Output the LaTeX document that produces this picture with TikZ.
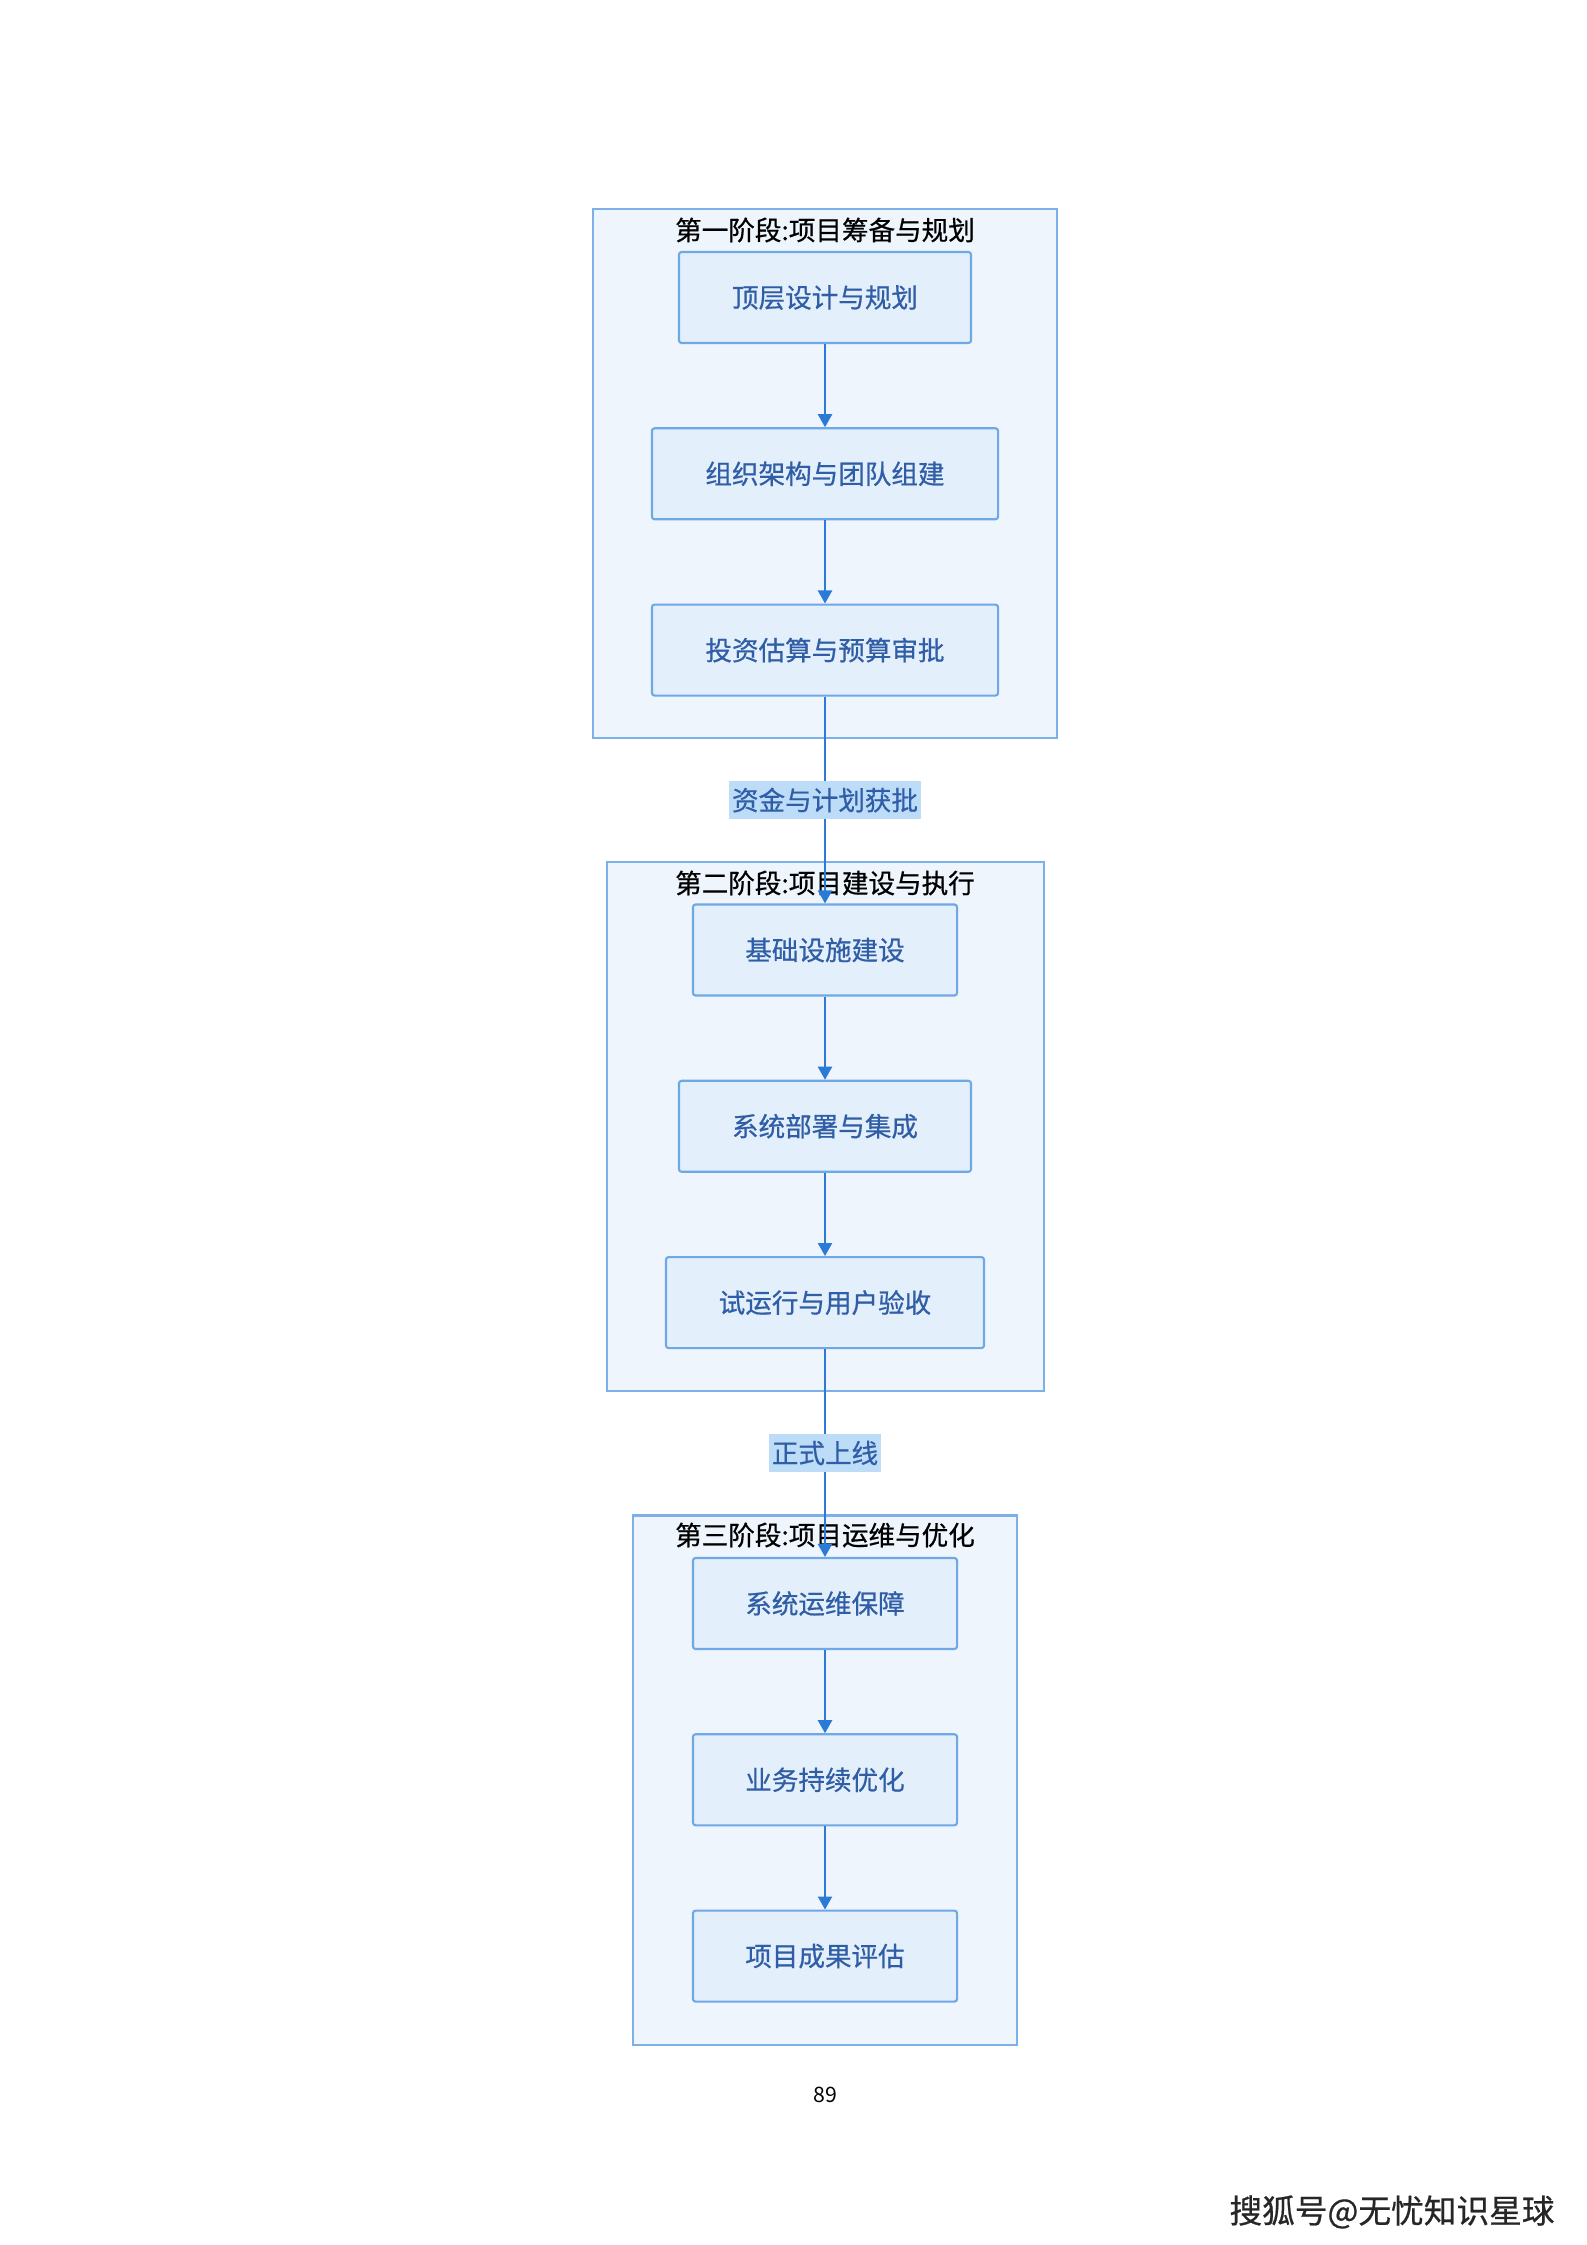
\documentclass[tikz,border=0pt]{standalone}
\usepackage{fontspec}
\setmainfont{Noto Sans CJK SC}
\newfontfamily\medfont[FakeBold=0.6]{Noto Sans CJK SC}
\usetikzlibrary{arrows.meta, positioning}

\definecolor{grpfill}{HTML}{EEF5FD}
\definecolor{grpline}{HTML}{7DB0E8}
\definecolor{boxfill}{HTML}{E3EFFB}
\definecolor{boxline}{HTML}{6FA8E6}
\definecolor{boxtext}{HTML}{2F5DA6}
\definecolor{flowblue}{HTML}{2B7BD6}
\definecolor{tagfill}{HTML}{BDDCF7}

\begin{document}
\begin{tikzpicture}[
    x=0.013233cm, y=-0.013233cm,
    node distance=1.10cm,
    group/.style={draw=grpline, fill=grpfill, line width=0.8pt, minimum height=7cm, inner sep=0pt},
    stage/.style={draw=boxline, fill=boxfill, line width=0.8pt, rounded corners=1pt, minimum height=1.204cm, inner sep=0pt, text=boxtext, font=\medfont\fontsize{10}{12}\selectfont},
    title/.style={inner sep=0pt, text=black, font=\medfont\fontsize{10}{12}\selectfont},
    tag/.style={fill=tagfill, inner xsep=1pt, inner ysep=2.6pt, text=boxtext, font=\medfont\fontsize{10}{12}\selectfont},
    flow/.style={draw=flowblue, line width=0.8pt},
    >={Triangle[width=5.3pt,length=4.9pt]},
]
    \useasboundingbox (0,0) rectangle (1587,2245);

    % stage frames
    \node[group, minimum width=6.140cm] (grp1) at (825,473.5)  {};
    \node[group, minimum width=5.783cm] (grp2) at (825.5,1126.5) {};
    \node[group, minimum width=5.082cm] (grp3) at (825,1780)   {};

    \node[title] (tit1) at (825,230)  {第一阶段:项目筹备与规划};
    \node[title] (tit2) at (825,883)  {第二阶段:项目建设与执行};
    \node[title] (tit3) at (825,1535) {第三阶段:项目运维与优化};

    % phase 1
    \node[stage, minimum width=3.864cm] (plan)   at (825,297.5) {顶层设计与规划};
    \node[stage, minimum width=4.579cm, below=of plan]   (team)   {组织架构与团队组建};
    \node[stage, minimum width=4.579cm, below=of team]   (budget) {投资估算与预算审批};

    % phase 2
    \node[stage, minimum width=3.494cm] (infra)  at (825,950)   {基础设施建设};
    \node[stage, minimum width=3.864cm, below=of infra]  (deploy) {系统部署与集成};
    \node[stage, minimum width=4.208cm, below=of deploy] (trial)  {试运行与用户验收};

    % phase 3
    \node[stage, minimum width=3.494cm] (ops)    at (825,1603.5) {系统运维保障};
    \node[stage, minimum width=3.494cm, below=of ops]    (optim)  {业务持续优化};
    \node[stage, minimum width=3.494cm, below=of optim]  (review) {项目成果评估};

    \draw[flow, ->] (plan)   -- (team);
    \draw[flow, ->] (team)   -- (budget);
    \draw[flow, ->] (budget) -- (infra) node[tag, midway] {资金与计划获批};
    \draw[flow, ->] (infra)  -- (deploy);
    \draw[flow, ->] (deploy) -- (trial);
    \draw[flow, ->] (trial)  -- (ops) node[tag, midway] {正式上线};
    \draw[flow, ->] (ops)    -- (optim);
    \draw[flow, ->] (optim)  -- (review);

    \node[font=\fontsize{8}{10}\selectfont] (page) at (825,2095) {89};
    \node[font=\medfont\fontsize{12.3}{14}\selectfont, text=black!85] (mark) at (1392,2212) {搜狐号@无忧知识星球};
\end{tikzpicture}
\end{document}
